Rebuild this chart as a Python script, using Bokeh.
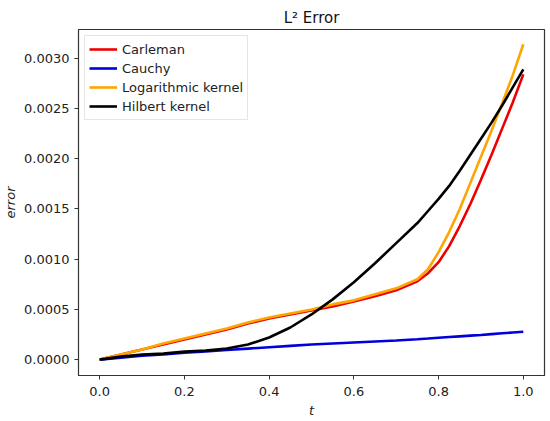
from bokeh.plotting import figure
from bokeh.models import (Range1d, FixedTicker, PrintfTickFormatter, Legend, LegendItem)
from bokeh.embed import file_html
from bokeh.resources import INLINE

# ---- data ----
t = [0.0, 0.05, 0.1, 0.15, 0.2, 0.25, 0.3, 0.35, 0.4, 0.45, 0.5, 0.55, 0.6, 0.65,
     0.7, 0.75, 0.775, 0.8, 0.825, 0.85, 0.875, 0.9, 0.925, 0.95, 0.975, 1.0]

carleman = [0.0, 0.00005, 0.00010, 0.00015, 0.00020, 0.00025, 0.00030, 0.00036, 0.00041,
            0.00045, 0.00049, 0.00053, 0.00058, 0.00063, 0.00069, 0.00078, 0.00086,
            0.00097, 0.00113, 0.00133, 0.00155, 0.00179, 0.00204, 0.00230, 0.00256, 0.00284]

cauchy = [0.0, 0.00002, 0.000038, 0.000052, 0.000068, 0.000082, 0.000096, 0.00011, 0.000124,
          0.000137, 0.00015, 0.00016, 0.00017, 0.00018, 0.00019, 0.000203, 0.00021,
          0.000218, 0.000225, 0.000232, 0.000239, 0.000246, 0.000254, 0.000262, 0.00027, 0.000277]

logarithmic = [0.0, 0.00005, 0.00010, 0.00016, 0.00021, 0.00026, 0.00031, 0.00037, 0.00042,
               0.00046, 0.00050, 0.00055, 0.00059, 0.00065, 0.00071, 0.00080, 0.00090,
               0.00107, 0.00127, 0.00150, 0.00176, 0.00202, 0.00228, 0.00255, 0.00283, 0.00314]

hilbert = [0.0, 0.00003, 0.00005, 0.00006, 0.00008, 0.00009, 0.00011, 0.00015, 0.00022,
           0.00032, 0.00045, 0.00060, 0.00077, 0.00096, 0.00116, 0.00136, 0.00148,
           0.00160, 0.00173, 0.00188, 0.00204, 0.00220, 0.00236, 0.00253, 0.00271, 0.00289]

series_names = ["Carleman", "Cauchy", "Logarithmic kernel", "Hilbert kernel"]
series_colors = ["#ee0000", "#0000dd", "#ffa500", "#000000"]

x_ticks = [0.0, 0.2, 0.4, 0.6, 0.8, 1.0]
y_ticks = [0.0, 0.0005, 0.0010, 0.0015, 0.0020, 0.0025, 0.0030]

FONT = "DejaVu Sans"

p = figure(frame_width=466, frame_height=346, output_backend="svg",
           toolbar_location=None, title="L² Error",
           x_range=Range1d(-0.05, 1.05), y_range=Range1d(-0.000158, 0.003287))
p.min_border_left = 66
p.min_border_right = 7
p.min_border_top = 29
p.min_border_bottom = 40

p.title.align = "center"
p.title.text_font = FONT
p.title.text_font_size = "15px"
p.title.text_font_style = "normal"
p.title.text_color = "#111111"
p.title.standoff = 6

p.xgrid.visible = False
p.ygrid.visible = False
p.outline_line_color = "#333333"
p.outline_line_width = 1.2

for ax in (p.xaxis[0], p.yaxis[0]):
    ax.major_label_text_font = FONT
    ax.major_label_text_font_size = "13px"
    ax.major_label_text_color = "#222222"
    ax.axis_label_text_font = FONT
    ax.axis_label_text_font_size = "13px"
    ax.axis_label_text_font_style = "italic"
    ax.axis_label_text_color = "#222222"
    ax.axis_line_color = "#333333"
    ax.major_tick_line_color = "#333333"
    ax.major_tick_out = 4
    ax.major_tick_in = 0
    ax.minor_tick_line_color = None

p.xaxis[0].ticker = FixedTicker(ticks=x_ticks)
p.xaxis[0].formatter = PrintfTickFormatter(format="%.1f")
p.xaxis[0].axis_label = "t"
p.xaxis[0].axis_label_standoff = 4
p.xaxis[0].major_label_standoff = 7
p.yaxis[0].ticker = FixedTicker(ticks=y_ticks)
p.yaxis[0].formatter = PrintfTickFormatter(format="%.4f")
p.yaxis[0].axis_label = "error"
p.yaxis[0].axis_label_standoff = 3

items = []
for name, col, ys in zip(series_names, series_colors,
                         [carleman, cauchy, logarithmic, hilbert]):
    r = p.line(t, ys, line_color=col, line_width=2.6)
    items.append(LegendItem(label=name, renderers=[r]))

legend = Legend(items=items, location="top_left")
legend.label_text_font = FONT
legend.label_text_font_size = "13px"
legend.label_text_color = "#222222"
legend.glyph_width = 28
legend.glyph_height = 18
legend.label_height = 18
legend.spacing = 1
legend.padding = 4
legend.margin = 6
legend.border_line_color = "#cccccc"
legend.border_line_width = 1
legend.background_fill_alpha = 0.85
p.add_layout(legend)

open("out.html", "w").write(file_html(p, INLINE))
